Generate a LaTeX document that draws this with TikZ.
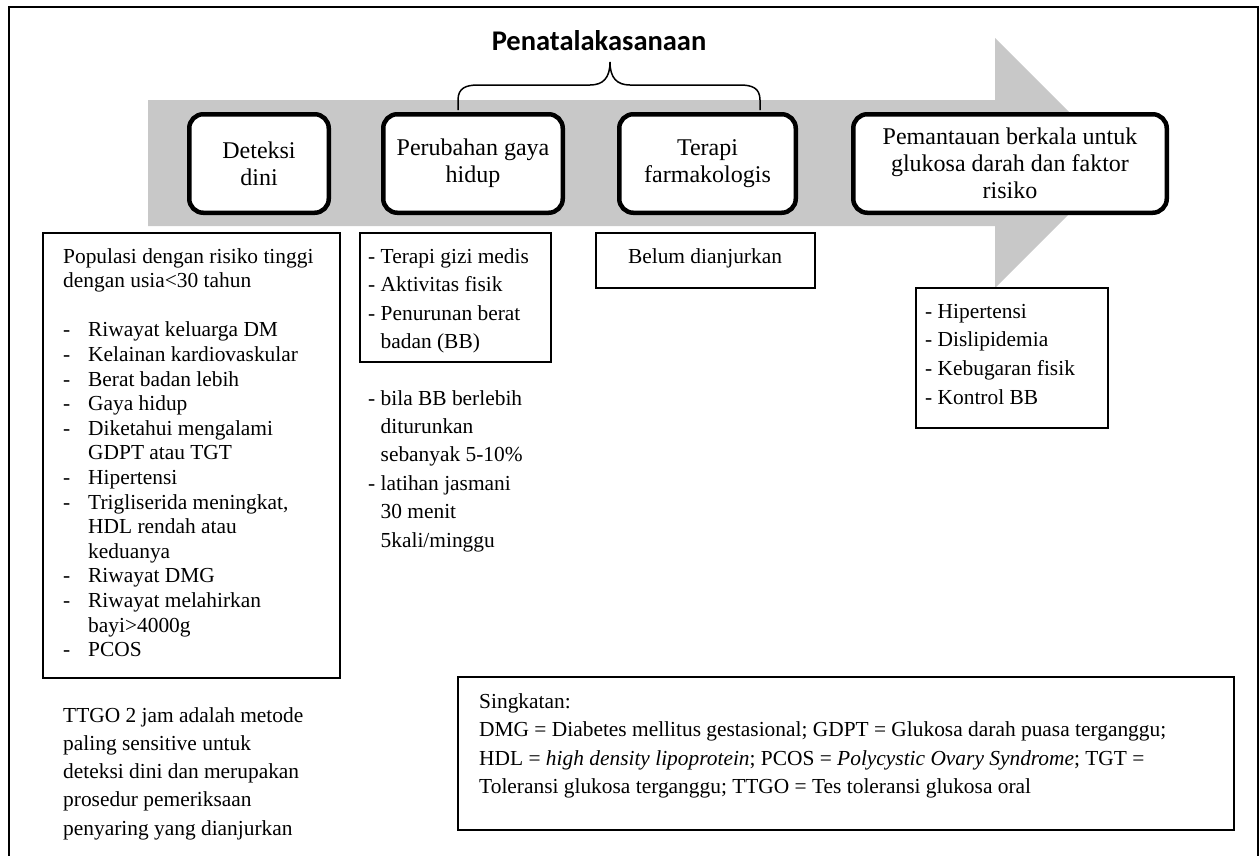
\documentclass[tikz,border=0pt]{standalone}
\usepackage{fontspec}
\setmainfont{Liberation Serif}
\newfontfamily\calib{Carlito}
\definecolor{arrowgray}{RGB}{200,200,200}
\tikzset{
  rbox/.style={draw, line width=4.5pt, rounded corners=14pt, align=center, inner sep=0pt,
               font=\fontsize{24}{27}\selectfont},
  tbox/.style={draw, line width=1.8pt, inner sep=0pt},
  txt/.style={inner sep=0pt, anchor=base west},
}
\newcommand{\fs}[1]{\fontsize{21.4}{#1}\selectfont}
\begin{document}
\begin{tikzpicture}[x=1pt,y=-1pt]
\useasboundingbox (0,0) rectangle (1260,855);
% outer frame
\draw[line width=1.5pt] (9,870) -- (9,7) -- (1258,7) -- (1258,870);
% big gray arrow
\fill[arrowgray] (148,100) -- (995,100) -- (995,38) -- (1120,163) -- (995,288) -- (995,226) -- (148,226) -- cycle;
% brace
\draw[line width=1.5pt] (458,110) -- (458,100) .. controls (458,88) and (466,85) .. (478,85) -- (590,85)
  .. controls (603,85) and (610,78) .. (610,62) .. controls (610,78) and (617,85) .. (630,85) -- (740,85)
  .. controls (752,85) and (760,88) .. (760,100) -- (760,110);
\node[inner sep=0pt, anchor=base, font=\calib\bfseries\fontsize{28.5}{30}\selectfont] (title) at (599,50) {Penatalakasanaan};
% rounded boxes
\node[rbox, fill=white, minimum width=139.5pt, minimum height=98.5pt] (det) at (259,163.5) {Deteksi\\dini};
\node[rbox, fill=white, minimum width=179.5pt, minimum height=98.5pt] (pgh) at (473,163.5) {Perubahan gaya\\hidup};
\node[rbox, fill=white, minimum width=176.5pt, minimum height=98.5pt] (tf) at (707.5,163.5) {Terapi\\farmakologis};
\node[rbox, fill=white, minimum width=313.5pt, minimum height=98.5pt] (pem) at (1010,163.5) {Pemantauan berkala untuk\\glukosa darah dan faktor\\risiko};
% thin boxes
\node[tbox, minimum width=297pt, minimum height=445pt] (popbox) at (191.5,455.5) {};
\node[tbox, minimum width=191pt, minimum height=129pt] (pgbox) at (455.5,297.5) {};
\node[tbox, minimum width=219pt, minimum height=55pt] (belbox) at (705.5,260.5) {};
\node[tbox, fill=white, minimum width=192pt, minimum height=140pt] (hipbox) at (1012,358) {};
\node[tbox, minimum width=776pt, minimum height=153pt] (singbox) at (846,753.5) {};
% texts
\node[txt, font=\fs{24.6}] (poptext) at (63,263) {\begin{tabular}[t]{@{}p{25pt}@{}l@{}}
\multicolumn{2}{@{}l@{}}{Populasi dengan risiko tinggi}\\
\multicolumn{2}{@{}l@{}}{dengan usia<30 tahun}\\
 & \\
- & Riwayat keluarga DM\\
- & Kelainan kardiovaskular\\
- & Berat badan lebih\\
- & Gaya hidup\\
- & Diketahui mengalami\\
 & GDPT atau TGT\\
- & Hipertensi\\
- & Trigliserida meningkat,\\
 & HDL rendah atau\\
 & keduanya\\
- & Riwayat DMG\\
- & Riwayat melahirkan\\
 & bayi>4000g\\
- & PCOS
\end{tabular}};
\node[txt, font=\fs{28.5}] (pgtext) at (368,263) {\begin{tabular}[t]{@{}l@{\ }l@{}}
- & Terapi gizi medis\\
- & Aktivitas fisik\\
- & Penurunan berat\\
 & badan (BB)
\end{tabular}};
\node[txt, font=\fs{28.4}] (bilatext) at (368,405) {\begin{tabular}[t]{@{}l@{\ }l@{}}
- & bila BB berlebih\\
 & diturunkan\\
 & sebanyak 5-10\%\\
- & latihan jasmani\\
 & 30 menit\\
 & 5kali/minggu
\end{tabular}};
\node[inner sep=0pt, anchor=base, font=\fs{25}] (beltext) at (705,263) {Belum dianjurkan};
\node[txt, font=\fs{28.7}] (hiptext) at (925,318) {\begin{tabular}[t]{@{}l@{\ }l@{}}
- & Hipertensi\\
- & Dislipidemia\\
- & Kebugaran fisik\\
- & Kontrol BB
\end{tabular}};
\node[txt, font=\fs{28.3}] (ttgotext) at (63,722) {\begin{tabular}[t]{@{}l@{}}
TTGO 2 jam adalah metode\\
paling sensitive untuk\\
deteksi dini dan merupakan\\
prosedur pemeriksaan\\
penyaring yang dianjurkan
\end{tabular}};
\node[txt, font=\fs{28.5}] (singtext) at (479,708) {\begin{tabular}[t]{@{}l@{}}
Singkatan:\\
DMG = Diabetes mellitus gestasional; GDPT = Glukosa darah puasa terganggu;\\
HDL = \textit{high density lipoprotein}; PCOS = \textit{Polycystic Ovary Syndrome}; TGT =\\
Toleransi glukosa terganggu; TTGO = Tes toleransi glukosa oral
\end{tabular}};
\end{tikzpicture}
\end{document}
